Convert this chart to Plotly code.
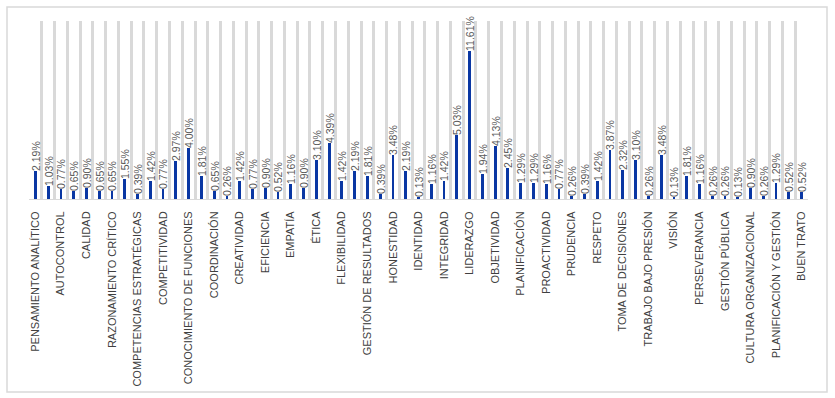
import plotly.graph_objects as go

# Tick labels (shown on every other category)
tick_labels = [
    "PENSAMIENTO ANALÍTICO", "AUTOCONTROL", "CALIDAD", "RAZONAMIENTO CRÍTICO",
    "COMPETENCIAS ESTRATÉGICAS", "COMPETITIVIDAD", "CONOCIMIENTO DE FUNCIONES",
    "COORDINACIÓN", "CREATIVIDAD", "EFICIENCIA", "EMPATÍA", "ÉTICA",
    "FLEXIBILIDAD", "GESTIÓN DE RESULTADOS", "HONESTIDAD", "IDENTIDAD",
    "INTEGRIDAD", "LIDERAZGO", "OBJETIVIDAD", "PLANIFICACIÓN", "PROACTIVIDAD",
    "PRUDENCIA", "RESPETO", "TOMA DE DECISIONES", "TRABAJO BAJO PRESIÓN",
    "VISIÓN", "PERSEVERANCIA", "GESTIÓN PÚBLICA", "CULTURA ORGANIZACIONAL",
    "PLANIFICACIÓN Y GESTIÓN", "BUEN TRATO",
]

# Percentages for each of the 61 categories
values = [
    2.19, 1.03, 0.77, 0.65, 0.90, 0.65, 0.65, 1.55, 0.39, 1.42,
    0.77, 2.97, 4.00, 1.81, 0.65, 0.26, 1.42, 0.77, 0.90, 0.52,
    1.16, 0.90, 3.10, 4.39, 1.42, 2.19, 1.81, 0.39, 3.48, 2.19,
    0.13, 1.16, 1.42, 5.03, 11.61, 1.94, 4.13, 2.45, 1.29, 1.29,
    1.16, 0.77, 0.26, 0.39, 1.42, 3.87, 2.32, 3.10, 0.26, 3.48,
    0.13, 1.81, 1.16, 0.26, 0.26, 0.13, 0.90, 0.26, 1.29, 0.52,
    0.52,
]

positions = list(range(len(values)))
tick_positions = positions[::2]
text_labels = [f"{v:.2f}%" for v in values]

W, H = 835, 398
ml, mr, mt, mb = 29, 27, 21, 199

fig = go.Figure()
fig.add_trace(go.Bar(
    x=positions,
    y=values,
    width=0.22,
    marker=dict(color="#0a37a3", line=dict(width=0)),
    text=text_labels,
    textposition="outside",
    textangle=-90,
    constraintext="none",
    cliponaxis=False,
    textfont=dict(family="Liberation Sans, Arial, sans-serif", size=10.5, color="#595959"),
    hoverinfo="x+y",
))

fig.update_layout(
    width=W, height=H,
    margin=dict(l=ml, r=mr, t=mt, b=mb, pad=0, autoexpand=False),
    paper_bgcolor="white",
    plot_bgcolor="white",
    showlegend=False,
    bargap=0,
    xaxis=dict(
        range=[-0.5, len(values) - 0.5],
        automargin=False,
        tickmode="array",
        tickvals=tick_positions,
        ticktext=tick_labels,
        tickangle=-90,
        tickfont=dict(family="Liberation Sans, Arial, sans-serif", size=11, color="#404040"),
        showgrid=False,
        zeroline=False,
        showline=True,
        linecolor="#d9d9d9",
        linewidth=1,
        ticks="outside",
        ticklen=7,
        tickcolor="rgba(0,0,0,0)",
        minor=dict(
            tick0=-0.5,
            dtick=1,
            showgrid=True,
            gridcolor="#d9d9d9",
            gridwidth=2.5,
            ticks="",
        ),
    ),
    yaxis=dict(
        range=[0, 14],
        visible=False,
        automargin=False,
        showgrid=False,
        zeroline=False,
    ),
    shapes=[dict(
        type="rect", xref="paper", yref="paper",
        x0=(7 - ml) / (W - ml - mr), x1=(827 - ml) / (W - ml - mr),
        y0=(H - 392 - mb) / (H - mt - mb), y1=(H - 7 - mb) / (H - mt - mb),
        line=dict(color="#d9d9d9", width=1.5),
        fillcolor="rgba(0,0,0,0)",
        layer="below",
    )],
)

fig.write_html(
    "out.html",
    config={"displayModeBar": False},
    post_script="document.body.style.margin='0';document.body.style.padding='0';",
)
